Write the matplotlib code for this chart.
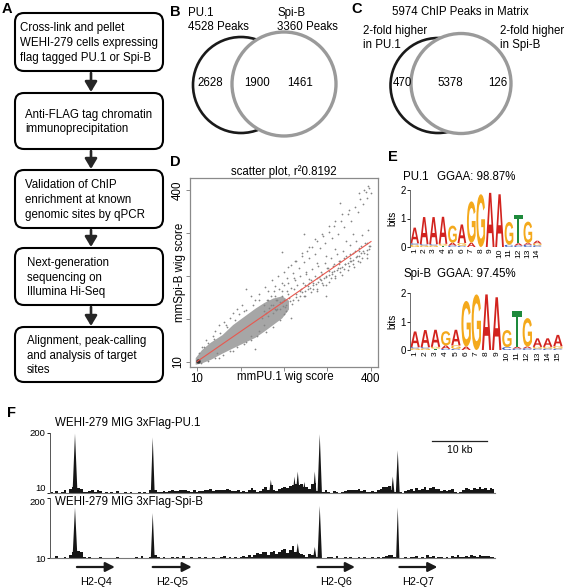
import matplotlib
matplotlib.use("Agg")
import matplotlib.pyplot as plt
import matplotlib.transforms as mtransforms
import numpy as np
from matplotlib.patches import FancyBboxPatch, Circle, PathPatch
from matplotlib.textpath import TextPath
from matplotlib.font_manager import FontProperties

plt.rcParams["font.family"] = ["Liberation Sans", "DejaVu Sans"]

# ---- data ----
steps = [
    "Cross-link and pellet\nWEHI-279 cells expressing\nflag tagged PU.1 or Spi-B",
    "Anti-FLAG tag chromatin\nimmunoprecipitation",
    "Validation of ChIP\nenrichment at known\ngenomic sites by qPCR",
    "Next-generation\nsequencing on\nIllumina Hi-Seq",
    "Alignment, peak-calling\nand analysis of target\nsites",
]

venn_b = [2628, 1900, 1461]
venn_c = [470, 5378, 126]

# scatter: dense core outline and individual points (mmPU.1, mmSpi-B)
core_x = [6, 20, 40, 66, 90, 117, 140, 160, 180, 200, 215]
core_lo = [5, 8, 16, 30, 42, 55, 66, 80, 95, 110, 130]
core_hi = [20, 38, 55, 72, 95, 115, 132, 145, 155, 160, 150]
upper_x = [150, 162, 170, 178, 185, 192, 200, 206, 212, 220, 226, 232, 238, 245, 250,
           256, 262, 268, 274, 280, 286, 292, 298, 305, 312, 318, 325, 332, 340, 348,
           356, 364, 370, 376, 382, 388, 392, 396, 399, 385, 372, 394]
upper_y = [165, 180, 170, 195, 182, 205, 190, 214, 200, 230, 212, 240, 224, 250, 236,
           262, 246, 270, 255, 285, 268, 295, 280, 305, 290, 318, 300, 330, 316, 345,
           330, 362, 350, 380, 368, 395, 382, 405, 392, 400, 392, 410]
mid_x = [160, 175, 190, 205, 215, 228, 240, 252, 265, 278, 290, 302, 315, 328, 340,
         352, 365, 378, 390, 230, 255, 280, 300, 320, 345, 360, 200, 185, 170]
mid_y = [125, 140, 150, 150, 165, 175, 170, 185, 195, 200, 210, 222, 228, 238, 245,
         255, 262, 272, 280, 195, 215, 235, 250, 265, 285, 300, 170, 160, 150]
band_x = [180, 188, 195, 202, 210, 218, 225, 232, 240, 246, 252, 258, 264, 270, 276,
          282, 288, 294, 300, 306, 312, 318, 324, 330, 336, 342, 348, 354, 360, 366,
          372, 378, 384, 390, 396, 250, 270, 290, 310, 330, 350, 370, 390, 262, 284,
          306, 328, 352, 374, 396, 320, 340, 360, 380, 300, 280]
band_y = [120, 128, 130, 138, 140, 148, 150, 158, 160, 168, 170, 176, 178, 185, 186,
          192, 195, 200, 202, 208, 210, 216, 218, 224, 226, 232, 234, 240, 242, 248,
          250, 256, 258, 264, 266, 160, 176, 188, 200, 214, 228, 240, 254, 188, 202,
          216, 232, 246, 262, 274, 205, 220, 232, 246, 185, 172]
cloud_x = [155, 160, 165, 168, 172, 176, 180, 183, 187, 190, 194, 197, 201, 204, 208,
           211, 214, 217, 221, 224, 227, 231, 234, 237, 241, 244, 248, 251, 255, 258,
           261, 265, 268, 271, 275, 278, 282, 285, 289, 292, 296, 299, 303, 306, 310,
           313, 317, 320, 324, 327, 331, 334, 338, 341, 345, 348, 352, 355, 359, 362,
           366, 369, 373, 376, 380, 383, 387, 390, 394, 397, 230, 260, 290, 320, 350,
           215, 245, 275, 305, 335]
cloud_y = [110, 140, 120, 150, 132, 160, 140, 170, 150, 130, 175, 145, 160, 185, 135,
           170, 190, 155, 178, 142, 200, 165, 185, 150, 205, 175, 190, 160, 210, 182,
           198, 168, 220, 190, 205, 175, 228, 198, 215, 185, 235, 205, 222, 192, 245,
           214, 232, 200, 255, 222, 240, 208, 262, 232, 250, 218, 275, 240, 258, 226,
           285, 250, 268, 236, 298, 262, 280, 246, 310, 272, 240, 270, 300, 330, 355,
           225, 258, 288, 318, 345]
fringe_x = [30, 50, 70, 90, 110, 130, 60, 90, 120, 150, 45, 75, 140, 100, 160, 130,
            25, 85, 115, 55, 120, 60, 200, 250, 330, 140, 300, 220, 170, 210,
            15, 22, 35, 48, 62, 78, 95, 105, 120, 135, 148, 20, 35, 50, 68, 85,
            100, 115, 130, 145, 165, 180, 195, 205, 185, 200]
fringe_y = [60, 80, 100, 120, 140, 160, 20, 35, 55, 80, 70, 95, 150, 130, 95, 70,
            45, 110, 125, 30, 175, 95, 260, 300, 370, 40, 160, 110, 115, 125,
            30, 45, 52, 62, 75, 90, 105, 118, 128, 140, 150, 8, 12, 20, 26, 35,
            45, 50, 60, 68, 78, 90, 105, 118, 130, 145]
fit_x = [10, 400]
fit_y = [11, 283]
d_ticks = [10, 107.5, 205, 302.5, 400]

# sequence logos: per position, (letter, bits) from bottom to top
pu1_logo = [
    [("G", 0.08), ("C", 0.05), ("A", 0.55)],
    [("G", 0.06), ("C", 0.04), ("A", 0.95)],
    [("G", 0.06), ("C", 0.04), ("A", 0.95)],
    [("T", 0.05), ("G", 0.06), ("A", 0.95)],
    [("C", 0.05), ("A", 0.1), ("G", 0.6)],
    [("C", 0.04), ("G", 0.1), ("A", 0.65)],
    [("A", 0.15), ("G", 1.45)],
    [("G", 1.85)],
    [("A", 1.9)],
    [("A", 1.85)],
    [("C", 0.08), ("G", 0.8)],
    [("C", 0.05), ("A", 0.08), ("T", 1.0)],
    [("C", 0.08), ("A", 0.06), ("G", 0.75)],
    [("C", 0.06), ("G", 0.06), ("A", 0.1)],
]
spib_logo = [
    [("G", 0.06), ("C", 0.04), ("A", 0.55)],
    [("G", 0.06), ("C", 0.04), ("A", 0.6)],
    [("T", 0.05), ("G", 0.06), ("A", 0.6)],
    [("C", 0.04), ("A", 0.12), ("G", 0.5)],
    [("C", 0.04), ("G", 0.12), ("A", 0.55)],
    [("A", 0.12), ("G", 1.6)],
    [("G", 1.95)],
    [("A", 1.95)],
    [("A", 1.85)],
    [("C", 0.1), ("G", 0.6)],
    [("C", 0.05), ("A", 0.06), ("T", 1.25)],
    [("C", 0.06), ("A", 0.06), ("G", 1.0)],
    [("C", 0.05), ("G", 0.06), ("A", 0.3)],
    [("C", 0.05), ("G", 0.06), ("A", 0.3)],
    [("C", 0.05), ("G", 0.08), ("A", 0.4)],
]
letter_colors = {"A": "#d2231e", "G": "#f4a91c", "T": "#1e8a3c", "C": "#2a4fb5"}

# genome tracks (kb, 0.5 kb bins, wig score 10-200)
pu1_bg = [12, 11, 16, 10, 13, 18, 11, 24, 28, 30,
          27, 24, 14, 12, 17, 20, 12, 19, 16, 11,
          13, 10, 12, 11, 15, 10, 11, 13, 10, 12,
          10, 11, 14, 10, 12, 10, 18, 24, 20, 14,
          12, 15, 13, 16, 18, 15, 17, 20, 18, 19,
          16, 14, 18, 13, 15, 17, 20, 18, 22, 16,
          19, 21, 18, 20, 22, 19, 17, 15, 18, 14,
          16, 13, 21, 25, 18, 14, 17, 22, 28, 20,
          35, 18, 16, 22, 27, 30, 26, 33, 36, 40,
          34, 38, 30, 28, 24, 38, 42, 16, 12, 14,
          18, 13, 11, 15, 12, 10, 13, 17, 20, 18,
          21, 19, 22, 16, 20, 14, 12, 15, 13, 18,
          22, 28, 30, 32, 18, 12, 10, 14, 10, 16,
          18, 22, 17, 25, 20, 24, 28, 18, 26, 30,
          22, 24, 17, 20, 15, 18, 22, 12, 10, 14,
          20, 26, 22, 18, 26, 24, 30, 22, 25, 20,
          26, 22]
spib_bg = [11, 10, 15, 10, 10, 12, 10, 20, 30, 34,
           32, 28, 12, 10, 14, 10, 11, 10, 12, 10,
           10, 11, 10, 10, 12, 10, 10, 11, 10, 10,
           10, 14, 10, 16, 10, 10, 12, 22, 18, 12,
           10, 13, 10, 11, 14, 10, 12, 10, 15, 11,
           10, 12, 11, 10, 13, 10, 14, 11, 10, 12,
           11, 10, 13, 15, 10, 12, 11, 14, 10, 13,
           16, 12, 18, 14, 20, 26, 22, 28, 30, 18,
           28, 32, 22, 30, 36, 40, 26, 34, 48, 30,
           26, 22, 20, 12, 24, 18, 10, 12, 10, 11,
           10, 14, 12, 10, 16, 11, 10, 13, 10, 12,
           11, 10, 14, 10, 12, 10, 11, 13, 10, 12,
           10, 12, 15, 18, 20, 12, 10, 11, 10, 13,
           10, 14, 12, 16, 11, 13, 10, 18, 12, 15,
           10, 12, 14, 11, 13, 10, 16, 12, 18, 14,
           12, 17, 14, 19, 16, 14, 18, 15, 17, 16,
           14, 12]
pu1_peaks = [(4.55, 198, 0.45), (18.7, 186, 0.35), (40.2, 52, 0.3), (44.5, 62, 0.3),
             (45.1, 78, 0.35), (46.3, 45, 0.3), (48.2, 78, 0.3), (49.1, 196, 0.4),
             (62.4, 62, 0.3), (63.3, 145, 0.35)]
spib_peaks = [(4.55, 170, 0.45), (18.7, 152, 0.35), (45.1, 57, 0.35), (48.2, 45, 0.3),
              (49.1, 175, 0.4), (63.3, 170, 0.3)]
genes = [("H2-Q4", 4.9, 11.8), ("H2-Q5", 18.7, 25.8), ("H2-Q6", 48.7, 55.5), ("H2-Q7", 63.6, 70.5)]

# ---- figure ----
W, H = 567, 587
fig = plt.figure(figsize=(W / 100, H / 100), dpi=100)
FS = 8.3


def axes_px(x0, y0, x1, y1):
    return fig.add_axes([x0 / W, 1 - y1 / H, (x1 - x0) / W, (y1 - y0) / H])


cv = fig.add_axes([0, 0, 1, 1])
cv.set_xlim(0, W)
cv.set_ylim(H, 0)
cv.axis("off")

for lab, (x, y) in zip("ABCDEF", [(7, 9), (175, 12), (357, 9), (175, 162), (393, 157), (11, 413)]):
    cv.text(x, y, lab, fontsize=10.5, fontweight="bold", ha="center", va="center")

# A: flowchart
box_y = [(13, 71), (93, 149), (170, 228), (248, 305), (327, 382)]
text_x = [20, 25, 25, 27, 27]
for (y0, y1), tx, s in zip(box_y, text_x, steps):
    cv.add_patch(FancyBboxPatch((15, y0), 148, y1 - y0, boxstyle="round,pad=0,rounding_size=9",
                                fc="white", ec="black", lw=1.5))
    cv.text(tx, (y0 + y1) / 2 + 1, s, fontsize=FS, ha="left", va="center", linespacing=1.28)
for (a0, a1), (b0, b1) in zip(box_y[:-1], box_y[1:]):
    cv.annotate("", xy=(91, b0 - 1), xytext=(91, a1 + 2),
                arrowprops=dict(arrowstyle="-|>,head_length=0.6,head_width=0.36",
                                lw=1.9, color="#262626", shrinkA=0, shrinkB=0))

# B / C: Venn diagrams
def venn(cx1, cy1, r1, cx2, cy2, r2, counts, xs, y):
    cv.add_patch(Circle((cx1, cy1), r1, fc="none", ec="#1a1a1a", lw=1.9))
    cv.add_patch(Circle((cx2, cy2), r2, fc="white", ec="#9a9a9a", lw=2.4))
    for n, x in zip(counts, xs):
        cv.text(x, y, str(n), fontsize=FS, ha="center", va="center")


venn(241, 85, 48, 284, 84, 52, venn_b, [210, 257, 300], 83)
venn(438, 85.5, 47.5, 461, 83.5, 50, venn_c, [402, 450, 498], 83)
cv.text(188, 20, "PU.1\n4528 Peaks", fontsize=FS, ha="left", va="center", linespacing=1.2)
cv.text(277, 20, "Spi-B\n3360 Peaks", fontsize=FS, ha="left", va="center", linespacing=1.2)
cv.text(460, 12, "5974 ChIP Peaks in Matrix", fontsize=FS, ha="center", va="center")
cv.text(363, 38, "2-fold higher\nin PU.1", fontsize=FS, ha="left", va="center", linespacing=1.2)
cv.text(500, 38, "2-fold higher\nin Spi-B", fontsize=FS, ha="left", va="center", linespacing=1.2)

# D: scatter
ax = axes_px(190, 178, 378, 367)
ax.fill_between(core_x, core_lo, core_hi, color="#a6a6a6", lw=0)
for xs, ys in [(fringe_x, fringe_y), (cloud_x, cloud_y), (mid_x, mid_y),
               (band_x, band_y), (upper_x, upper_y)]:
    ax.scatter(xs, ys, s=1.6, color="#858585", lw=0)
ax.scatter([12], [13], s=10, color="#333333", lw=0)
ax.plot(fit_x, fit_y, color="#e8584f", lw=0.8)
ax.set_xlim(-5.7, 415.7)
ax.set_ylim(-1.3, 427)
ax.set_xticks(d_ticks)
ax.set_xticklabels(["10", "", "", "", "400"], fontsize=FS)
ax.set_yticks(d_ticks)
ax.set_yticklabels(["10", "", "", "", "400"], fontsize=FS, rotation=90, va="center")
ax.tick_params(length=3, width=0.6, color="#777777", pad=1.5)
for sp in ax.spines.values():
    sp.set_color("#8a8a8a")
    sp.set_linewidth(0.9)
ax.set_title("scatter plot, r²0.8192", fontsize=FS, pad=2)
ax.text(0.505, -0.055, "mmPU.1 wig score", transform=ax.transAxes, fontsize=FS, ha="center", va="center")
ax.text(-0.055, 0.5, "mmSpi-B wig score", transform=ax.transAxes, fontsize=FS, ha="center",
        va="center", rotation=90)

# E: sequence logos
logo_font = FontProperties(family="Liberation Sans", weight="bold")


def draw_logo(lax, stacks):
    for i, stack in enumerate(stacks, start=1):
        y0 = 0
        for letter, h in stack:
            tp = TextPath((0, 0), letter, size=1, prop=logo_font)
            ext = tp.get_extents()
            tr = (mtransforms.Affine2D().translate(-ext.x0, -ext.y0)
                  .scale(0.92 / ext.width, h / ext.height).translate(i - 0.46, y0))
            lax.add_patch(PathPatch(tr.transform_path(tp), fc=letter_colors[letter], ec="none"))
            y0 += h
    n = len(stacks)
    lax.set_xlim(0.5, n + 0.5)
    lax.set_ylim(0, 2)
    lax.set_xticks(range(1, n + 1))
    lax.set_xticklabels([str(k) for k in range(1, n + 1)], rotation=90, fontsize=6)
    lax.set_yticks([0, 1, 2])
    lax.set_yticklabels(["0", "1", "2"], fontsize=7)
    lax.tick_params(axis="x", length=0, pad=1)
    lax.tick_params(axis="y", length=2, width=0.6, pad=1)
    for s in ["top", "right", "bottom"]:
        lax.spines[s].set_visible(False)
    lax.spines["left"].set_linewidth(0.6)
    lax.spines["left"].set_color("#555555")
    lax.set_ylabel("bits", fontsize=7, labelpad=2)
    lax.patch.set_alpha(0)


e1 = axes_px(410, 190, 542, 247)
draw_logo(e1, pu1_logo)
e2 = axes_px(410, 293, 563, 350)
draw_logo(e2, spib_logo)
cv.text(403, 177, "PU.1", fontsize=FS, ha="left", va="center")
cv.text(437, 177, "GGAA: 98.87%", fontsize=FS, ha="left", va="center")
cv.text(403, 274, "Spi-B", fontsize=FS, ha="left", va="center")
cv.text(437, 274, "GGAA: 97.45%", fontsize=FS, ha="left", va="center")

# F: genome tracks
def draw_track(tax, bg, peaks, label, label_y):
    centers = 0.25 + 0.5 * np.arange(len(bg))
    tax.fill_between(centers, 10, bg, step="mid", color="#161616", lw=0)
    for p, h, w in peaks:
        tax.fill([p - w, p, p + w], [10, h, 10], color="#161616", lw=0)
    tax.set_xlim(0, 81)
    tax.set_ylim(10, 200)
    tax.set_xticks([])
    tax.set_yticks([10, 200])
    tax.set_yticklabels(["10", "200"], fontsize=6.8)
    tax.tick_params(axis="y", length=2, width=0.6, pad=1)
    tax.spines["top"].set_visible(False)
    tax.spines["right"].set_visible(False)
    tax.spines["left"].set_linewidth(0.7)
    tax.spines["left"].set_color("#555555")
    tax.spines["bottom"].set_linewidth(0.8)
    tax.spines["bottom"].set_color("#777777")
    tax.patch.set_alpha(0)
    tax.text(0.9, label_y, label, transform=tax.get_xaxis_transform(), fontsize=FS,
             ha="left", va="center")


t1 = axes_px(50, 433, 495, 493)
draw_track(t1, pu1_bg, pu1_peaks, "WEHI-279 MIG 3xFlag-PU.1", 1.17)
t1.get_yticklabels()[0].set_va("bottom")
t2 = axes_px(50, 498, 495, 558)
draw_track(t2, spib_bg, spib_peaks, "WEHI-279 MIG 3xFlag-Spi-B", 0.93)
t2.get_yticklabels()[1].set_va("top")

xt = t1.get_xaxis_transform()
t1.plot([69.5, 79.5], [0.867, 0.867], transform=xt, color="#222222", lw=0.9, clip_on=False)
t1.text(74.5, 0.72, "10 kb", transform=xt, fontsize=7.5, ha="center", va="center")

xt2 = t2.get_xaxis_transform()
for name, g0, g1 in genes:
    t2.annotate("", xy=(g1, -0.15), xytext=(g0, -0.15), xycoords=xt2, textcoords=xt2,
                arrowprops=dict(arrowstyle="-|>,head_length=0.55,head_width=0.28",
                                lw=1.6, color="#1a1a1a", shrinkA=0, shrinkB=0),
                annotation_clip=False)
    t2.text((g0 + g1) / 2, -0.4, name, transform=xt2, fontsize=7.8, ha="center", va="center")

fig.savefig("out.png", dpi=100)
